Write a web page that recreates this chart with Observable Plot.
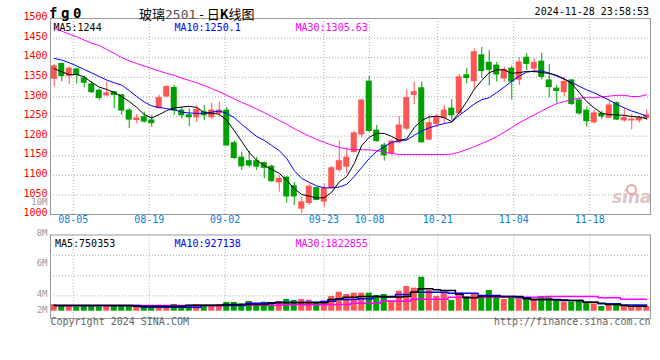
<!DOCTYPE html>
<html>
<head>
<meta charset="utf-8">
<script src="https://cdn.jsdelivr.net/npm/d3@7"></script>
<script src="https://cdn.jsdelivr.net/npm/@observablehq/plot@0.6"></script>
<style>
html,body{margin:0;padding:0;background:#fff;}
#chart{position:relative;width:660px;height:360px;overflow:hidden;background:#fff;}
#chart svg{position:absolute;left:0;top:0;}
.t{position:absolute;white-space:nowrap;line-height:1;z-index:2;}
</style>
</head>
<body>
<div id="chart">
  <div class="t" style="left:49px;top:5px;font:bold 14px 'DejaVu Sans Mono';letter-spacing:3.6px;color:#000">fg0</div>
  <div class="t" style="left:139px;top:4px;font:13px 'Noto Sans CJK SC';color:#000">玻璃<span style="color:#555;font-family:'DejaVu Sans Mono'">2501</span> - 日<b>K</b>线图</div>
  <div class="t" style="right:11px;top:6px;font:10px 'DejaVu Sans Mono';color:#000">2024-11-28 23:58:53</div>
</div>
<script>
// ---- data ----
const tickLabels = ["08-05","08-19","09-02","09-23","10-08","10-21","11-04","11-18"];
const tickIdx = [3,13,23,36,42,51,61,71];
const yTicks = [1000,1050,1100,1150,1200,1250,1300,1350,1400,1450,1500];
const volTickLabels = ["10M","8M","6M","4M","2M"];
const volTickValues = [10,8,6,4,2];

const open = [1346,1384,1353,1370,1347,1332,1316,1304,1312,1304,
1265,1241,1248,1240,1271,1301,1323,1265,1253,1248,
1261,1248,1258,1265,1182,1145,1136,1136,1131,1122,
1082,1094,1072,1015,1029,1067,1033,1067,1114,1122,
1159,1204,1339,1214,1176,1155,1184,1219,1305,1322,
1191,1231,1247,1270,1258,1355,1340,1406,1387,1380,
1347,1372,1344,1400,1372,1390,1342,1321,1312,1342,
1291,1265,1235,1257,1247,1284,1240,1240,1240,1246];
const high = [1383,1386,1376,1373,1353,1339,1320,1338,1314,1306,
1270,1255,1261,1253,1304,1329,1329,1274,1270,1278,
1278,1284,1287,1273,1187,1159,1161,1146,1133,1125,
1099,1097,1082,1043,1078,1070,1077,1122,1187,1170,
1212,1293,1352,1227,1182,1189,1250,1318,1338,1338,
1253,1255,1278,1293,1357,1372,1423,1426,1418,1388,
1376,1379,1400,1410,1397,1411,1383,1329,1350,1344,
1295,1274,1265,1264,1289,1287,1270,1255,1250,1267];
const low = [1325,1339,1332,1333,1323,1308,1291,1302,1270,1253,
1219,1231,1233,1223,1270,1298,1253,1244,1224,1235,
1240,1242,1248,1175,1140,1112,1119,1112,1091,1082,
1057,1029,1023,1002,1023,1036,1019,1066,1108,1104,
1158,1196,1209,1184,1136,1150,1180,1214,1280,1184,
1189,1222,1231,1240,1257,1333,1318,1347,1328,1338,
1338,1292,1329,1367,1359,1344,1298,1284,1300,1278,
1253,1223,1231,1242,1245,1240,1235,1216,1233,1240];
const close = [1378,1353,1372,1356,1336,1312,1297,1309,1305,1265,
1242,1245,1237,1233,1297,1325,1265,1253,1248,1267,
1253,1265,1265,1176,1144,1123,1125,1122,1119,1085,
1091,1046,1046,1031,1071,1037,1066,1118,1136,1145,
1207,1291,1213,1187,1151,1186,1227,1297,1312,1184,
1233,1247,1265,1253,1350,1348,1414,1366,1369,1357,
1369,1339,1388,1384,1387,1351,1325,1315,1338,1282,
1258,1238,1258,1250,1278,1242,1246,1242,1246,1253];
const ma5 = [1372,1364,1357,1357,1351,1337,1325,1319,1311,1301,
1288,1273,1255,1246,1255,1265,1272,1274,1276,1273,
1260,1258,1256,1240,1214,1186,1158,1138,1125,1115,
1105,1087,1066,1051,1047,1042,1043,1057,1083,1097,
1130,1176,1197,1207,1207,1199,1189,1193,1222,1240,
1249,1251,1247,1237,1260,1288,1319,1342,1362,1369,
1369,1360,1362,1365,1365,1362,1360,1355,1346,1334,
1311,1288,1272,1258,1255,1254,1253,1250,1249,1244];
const ma10 = [1398,1394,1387,1379,1370,1361,1352,1343,1336,1330,
1316,1301,1287,1277,1273,1270,1267,1261,1259,1258,
1258,1261,1264,1258,1247,1230,1214,1199,1189,1176,
1163,1143,1112,1092,1082,1073,1068,1068,1070,1077,
1097,1120,1143,1161,1173,1184,1188,1190,1202,1213,
1221,1227,1232,1236,1253,1267,1282,1293,1298,1311,
1325,1340,1353,1363,1366,1366,1361,1353,1345,1337,
1327,1318,1310,1301,1292,1281,1272,1264,1258,1250.1];
const ma30 = [1476,1468,1460,1453,1445,1437,1431,1421,1411,1400,
1392,1385,1379,1372,1366,1360,1355,1348,1342,1336,
1329,1321,1313,1304,1295,1286,1278,1269,1260,1250,
1240,1230,1219,1209,1200,1191,1184,1177,1171,1167,
1166,1165,1165,1163,1159,1156,1153,1153,1153,1153,
1153,1153,1153,1154,1159,1166,1173,1181,1189,1199,
1210,1222,1234,1244,1254,1264,1274,1283,1288,1293,
1297,1298,1298,1300,1302,1304,1304,1301,1301,1305.63];
const volume = [1020000,860000,860000,650000,860000,860000,650000,860000,860000,860000,
860000,650000,560000,560000,650000,860000,1020000,650000,860000,1020000,
860000,860000,1020000,1320000,1320000,1110000,1470000,1110000,1360000,1110000,
1470000,1770000,1620000,1770000,1670000,1360000,1520000,2230000,2880000,2530000,
2730000,2730000,2730000,2380000,2530000,1620000,3030000,3740000,3480000,5150000,
3140000,2230000,2730000,1620000,2730000,2230000,2530000,2380000,3140000,2380000,
1770000,2230000,1770000,1860000,1770000,2230000,2020000,1520000,1360000,1360000,
1520000,1360000,1110000,710000,1020000,1020000,860000,710000,710000,710000];
const vma5 = [860000,860000,860000,860000,860000,860000,860000,860000,860000,860000,
860000,750000,750000,750000,750000,750000,750000,750000,900000,900000,
900000,900000,900000,1020000,1020000,1020000,1020000,1020000,1020000,1270000,
1270000,1270000,1270000,1270000,1270000,1270000,1270000,1770000,1880000,2120000,
2120000,2230000,2230000,2230000,2150000,2150000,2150000,2230000,2880000,3390000,
3390000,3260000,3140000,3140000,2580000,2030000,2030000,2230000,2230000,2230000,
2230000,2230000,2230000,1880000,1770000,1770000,1770000,1700000,1700000,1620000,
1620000,1360000,1360000,1210000,1020000,1020000,860000,750353,750353,750353];
const vma10 = [860000,860000,860000,860000,860000,860000,860000,860000,860000,860000,
860000,860000,610000,610000,610000,610000,610000,610000,610000,610000,
860000,860000,860000,860000,860000,860000,1210000,1210000,1210000,1210000,
1360000,1360000,1360000,1360000,1360000,1360000,1470000,1520000,1770000,1770000,
1770000,1880000,1880000,2230000,2230000,2230000,2530000,2530000,2880000,2880000,
2880000,2880000,2880000,2730000,2730000,2730000,2730000,2380000,2380000,2380000,
2230000,2230000,2030000,2030000,1770000,1770000,1770000,1770000,1620000,1620000,
1620000,1360000,1360000,1110000,1110000,1110000,927138,927138,927138,927138];
const vma30 = [860000,860000,860000,860000,860000,860000,860000,860000,860000,860000,
860000,860000,860000,860000,860000,860000,860000,860000,860000,860000,
860000,860000,860000,910000,910000,910000,910000,910000,910000,910000,
910000,980000,980000,980000,980000,980000,980000,1020000,1020000,1020000,
1210000,1210000,1210000,1210000,1520000,1520000,1520000,1520000,1820000,1820000,
1820000,1820000,1820000,2120000,2120000,2120000,2120000,2120000,2120000,2120000,
2120000,2120000,2120000,2120000,2120000,2120000,2230000,2230000,2230000,2230000,
2230000,2230000,2230000,2030000,2030000,2030000,1822855,1822855,1822855,1822855];

// ---- styling ----
const RED = "#ff5555", GREEN = "#00a000", GRID = "#aaa", FRAME = "#999";
const MONO = "DejaVu Sans Mono";
const DATE_BLUE = "#0a7fdc";
const dotted = {stroke: GRID, strokeDasharray: "1,2"};

const candles = open.map((o, i) => ({i, o, h: high[i], l: low[i], c: close[i], v: volume[i]}));
const N = candles.length;
const col = d => d.c >= d.o ? RED : GREEN;
const xDomain = [-0.5, N - 0.5];
// Sina's date grid runs on a marginally wider step than the candles
const gridX = tickIdx.map(k => k - 0.47 + (k - 3) * 0.0128);
const last = a => a[a.length - 1];

const main = Plot.plot({
  width: 660, height: 360,
  marginLeft: 50, marginRight: 10, marginTop: 18, marginBottom: 146,
  x: {domain: xDomain, axis: null},
  y: {domain: [1000, 1500], axis: null},
  color: {type: "identity"},
  style: {background: "transparent", fontFamily: MONO, fontSize: "10px", overflow: "visible"},
  marks: [
    Plot.ruleY(yTicks.slice(1, -1), dotted),
    Plot.ruleX(gridX, dotted),
    Plot.ruleX(candles, {x: "i", y1: "l", y2: "h", stroke: col}),
    Plot.rect(candles, {x1: d => d.i - 0.4, x2: d => d.i + 0.4,
      y1: d => Math.min(d.o, d.c), y2: d => Math.max(d.o, d.c),
      fill: col, insetTop: -0.5, insetBottom: -0.5}),
    Plot.line(ma30, {x: (d, i) => i, y: d => d, stroke: "#ff00ff", strokeWidth: 1}),
    Plot.line(ma10, {x: (d, i) => i, y: d => d, stroke: "#0000ff", strokeWidth: 1}),
    Plot.line(ma5, {x: (d, i) => i, y: d => d, stroke: "#000000", strokeWidth: 1}),
    Plot.text(["sina"], {frameAnchor: "bottom-right", dx: 1, dy: -12, textAnchor: "end",
      text: d => d, fontSize: 17, fontWeight: "bold", fontStyle: "italic",
      fontFamily: "DejaVu Sans", fill: "#dcc6c6"}),
    Plot.dot([0], {frameAnchor: "bottom-right", dx: -19, dy: -25, r: 4.5,
      stroke: "#eaa8a8", strokeWidth: 2, fill: "none"}),
    Plot.frame({stroke: FRAME}),
    Plot.text(yTicks, {y: d => d, frameAnchor: "left", dx: -3, dy: -1.5, textAnchor: "end",
      text: d => String(d), fill: "#ff0000"}),
    Plot.text(tickLabels, {x: (d, k) => gridX[k], frameAnchor: "bottom", dy: 8,
      text: d => d, fill: DATE_BLUE}),
    Plot.text([`MA5:${last(ma5)}`], {frameAnchor: "top-left", dx: 3, dy: 5.5, textAnchor: "start", text: d => d, fill: "#000"}),
    Plot.text([`MA10:${last(ma10)}`], {frameAnchor: "top-left", dx: 124, dy: 5.5, textAnchor: "start", text: d => d, fill: "#0000ff"}),
    Plot.text([`MA30:${last(ma30)}`], {frameAnchor: "top-left", dx: 245, dy: 5.5, textAnchor: "start", text: d => d, fill: "#ff00ff"})
  ]
});

// ---- volume panel ----
const VPX = 6.6e-6;            // pixels per lot
const vTop = 234.5, vBottom = 318, vBase = 310.7, vStep = 20.3;
const vDomain = [-(vBottom - vBase) / VPX, (vBase - vTop) / VPX];
const pxToVol = px => (vBase - px) / VPX;
const volGrid = [1, 2, 3].map(k => pxToVol(vTop + k * vStep));
const volLabelY = m => pxToVol(Math.min(354 - 15.2 * m, 310));
const fmt = v => String(v);

const vol = Plot.plot({
  width: 660, height: 360,
  marginLeft: 50, marginRight: 10, marginTop: vTop, marginBottom: 360 - vBottom,
  x: {domain: xDomain, axis: null},
  y: {domain: vDomain, axis: null},
  color: {type: "identity"},
  style: {background: "transparent", fontFamily: MONO, fontSize: "10px", overflow: "visible"},
  marks: [
    Plot.ruleY(volGrid, dotted),
    Plot.ruleX(gridX, dotted),
    Plot.rect(candles, {x1: d => d.i - 0.4, x2: d => d.i + 0.4, y1: 0, y2: "v", fill: col}),
    Plot.line(vma30, {x: (d, i) => i, y: d => d, curve: "step", stroke: "#ff00ff", strokeWidth: 1.5}),
    Plot.line(vma10, {x: (d, i) => i, y: d => d, curve: "step", stroke: "#0000ff", strokeWidth: 1.5}),
    Plot.line(vma5, {x: (d, i) => i, y: d => d, curve: "step", stroke: "#000000", strokeWidth: 1.5}),
    Plot.frame({stroke: FRAME}),
    Plot.text(volTickValues, {y: volLabelY, frameAnchor: "left", dx: -3, textAnchor: "end",
      text: (d, k) => volTickLabels[k], fill: "#999", fontSize: 9}),
    Plot.text([`MA5:${fmt(last(vma5))}`], {frameAnchor: "top-left", dx: 4.5, dy: 4.5, textAnchor: "start", text: d => d, fill: "#000"}),
    Plot.text([`MA10:${fmt(last(vma10))}`], {frameAnchor: "top-left", dx: 124, dy: 4.5, textAnchor: "start", text: d => d, fill: "#0000ff"}),
    Plot.text([`MA30:${fmt(last(vma30))}`], {frameAnchor: "top-left", dx: 245, dy: 4.5, textAnchor: "start", text: d => d, fill: "#ff00ff"}),
    Plot.text(["Copyright 2024 SINA.COM"], {frameAnchor: "bottom-left", dy: 6, textAnchor: "start", text: d => d, fill: "#666"}),
    Plot.text(["http://finance.sina.com.cn"], {frameAnchor: "bottom-right", dy: 6, textAnchor: "end", text: d => d, fill: "#666"})
  ]
});

document.getElementById("chart").append(main, vol);
</script>
</body>
</html>
